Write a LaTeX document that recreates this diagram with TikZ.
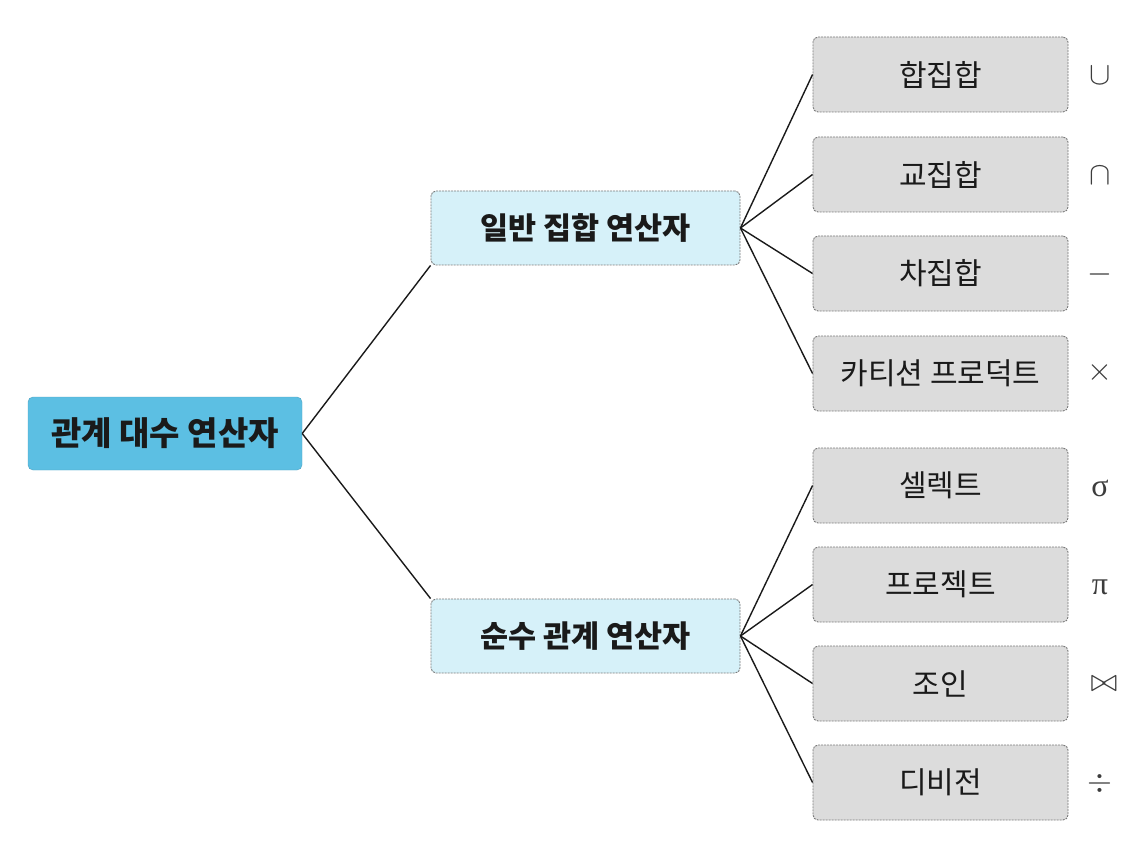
\documentclass[tikz,border=0pt]{standalone}
\usepackage{fontspec}
\setmainfont{Noto Sans CJK KR}
\newfontfamily\serifsym{Liberation Serif}
\definecolor{rootblue}{HTML}{5CBFE3}
\definecolor{midblue}{HTML}{D6F1F9}
\definecolor{leafgray}{HTML}{DCDCDC}
\definecolor{edgegray}{HTML}{7A7A7A}
\definecolor{txt}{HTML}{1A1A1A}
\begin{document}
\begin{tikzpicture}[x=1pt,y=-1pt,
  rootbox/.style={fill=rootblue,draw=rootblue!85!black,line width=0.4pt,rounded corners=5pt,minimum width=274pt,minimum height=73pt,inner sep=0pt,text=txt,font=\fontsize{33}{38}\selectfont\bfseries},
  midbox/.style={fill=midblue,draw=edgegray,dashed,dash pattern=on 2pt off 1pt,line width=0.9pt,rounded corners=5pt,minimum width=309pt,minimum height=74pt,inner sep=0pt,text=txt,font=\fontsize{30.5}{35}\selectfont\bfseries},
  leafbox/.style={fill=leafgray,draw=edgegray,dashed,dash pattern=on 2pt off 1pt,line width=0.9pt,rounded corners=5pt,minimum width=255pt,minimum height=75pt,inner sep=0pt,text=txt,font=\fontsize{30}{35}\selectfont},
  sym/.style={text=txt!85,scale=3.2,inner sep=0pt},
  grk/.style={text=txt!85,inner sep=0pt,font=\serifsym\fontsize{32}{36}\selectfont},
  link/.style={draw=txt,line width=1.4pt}]
\useasboundingbox (0,0) rectangle (1140,850);
\node[rootbox] (root) at (165,433.5) {관계 대수 연산자};
\node[midbox] (m1) at (585.5,228) {일반 집합 연산자};
\node[midbox] (m2) at (585.5,636) {순수 관계 연산자};
\node[leafbox] (l1) at (940.5,74.5) {합집합};
\node[leafbox] (l2) at (940.5,174.5) {교집합};
\node[leafbox] (l3) at (940.5,273.5) {차집합};
\node[leafbox] (l4) at (940.5,373.5) {카티션 프로덕트};
\node[leafbox] (l5) at (940.5,485.5) {셀렉트};
\node[leafbox] (l6) at (940.5,584.5) {프로젝트};
\node[leafbox] (l7) at (940.5,683.5) {조인};
\node[leafbox] (l8) at (940.5,782.5) {디비전};
\node[sym] (s1) at (1100,76) {$\cup$};
\node[sym] (s2) at (1100,176) {$\cap$};
\node[sym] (s3) at (1100,275) {$-$};
\node[sym] (s4) at (1100,372) {$\times$};
\node[grk] (s5) at (1100,488) {σ};
\node[grk] (s6) at (1100,587) {π};
\node[sym] (s7) at (1104,684) {$\bowtie$};
\node[sym] (s8) at (1100,783) {$\div$};
\draw[link] (root.east) -- (m1.south west);
\draw[link] (root.east) -- (m2.north west);
\foreach \l in {l1,l2,l3,l4} \draw[link] (m1.east) -- (\l.west);
\foreach \l in {l5,l6,l7,l8} \draw[link] (m2.east) -- (\l.west);
\end{tikzpicture}
\end{document}
